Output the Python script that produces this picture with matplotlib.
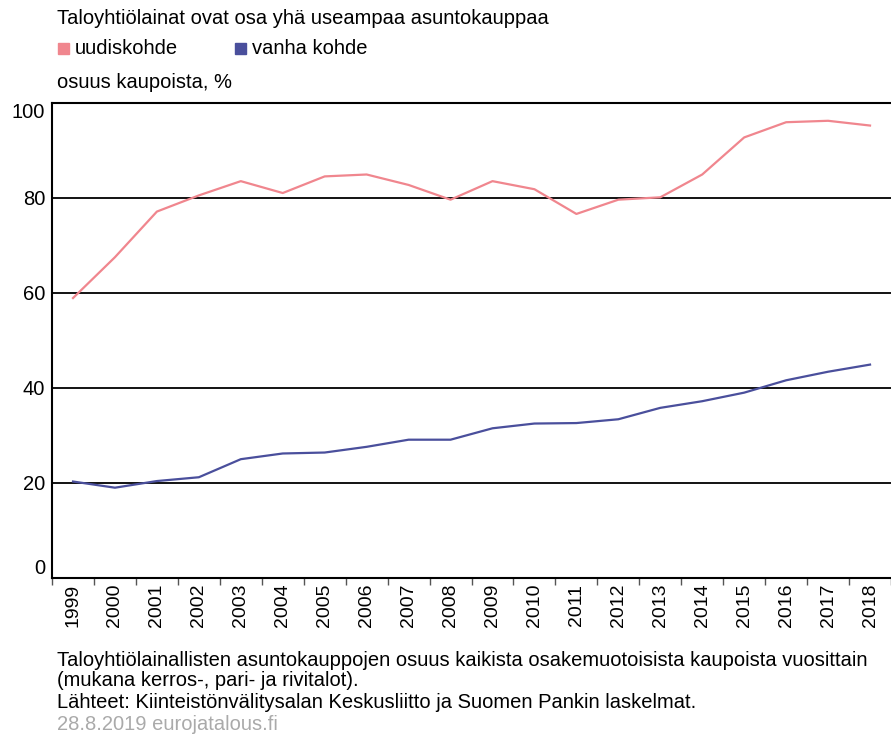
import matplotlib
matplotlib.use("Agg")
import matplotlib.pyplot as plt
from matplotlib.patches import Rectangle

plt.rcParams['font.family'] = ['Liberation Sans', 'DejaVu Sans']

years = ['1999', '2000', '2001', '2002', '2003', '2004', '2005', '2006', '2007', '2008',
         '2009', '2010', '2011', '2012', '2013', '2014', '2015', '2016', '2017', '2018']
uudiskohde = [58.9, 67.5, 77.1, 80.5, 83.5, 81.0, 84.5, 84.9, 82.7, 79.6,
              83.5, 81.8, 76.6, 79.6, 80.1, 84.9, 92.7, 95.9, 96.2, 95.2]
vanha_kohde = [20.3, 19.0, 20.4, 21.2, 25.0, 26.2, 26.4, 27.6, 29.1, 29.1,
               31.5, 32.5, 32.6, 33.4, 35.8, 37.2, 39.0, 41.6, 43.4, 44.9]
yticks = [0, 20, 40, 60, 80, 100]

pink = '#f0868e'
blue = '#4a4f9c'
fs = 14.5

fig = plt.figure(figsize=(8.91, 7.38), dpi=100)
ax = fig.add_axes([0.0584, 0.2168, 0.9416, 0.644])

x = list(range(len(years)))
ax.plot(x, uudiskohde, color=pink, lw=1.6)
ax.plot(x, vanha_kohde, color=blue, lw=1.6)

ax.set_ylim(0, 100)
ax.set_xlim(-0.5, 19.33)
ax.set_yticks(yticks)
for v in yticks[1:-1]:
    ax.axhline(v, color='black', lw=1.3, zorder=0)

ax.set_xticks(x)
ax.set_xticklabels(years, rotation=90, fontsize=14)
ax.set_xticks([i + 0.5 for i in range(-1, len(years))], minor=True)
ax.tick_params(axis='x', which='major', length=0, pad=4)
ax.tick_params(axis='x', which='minor', length=5, width=1, color='#555555')
ax.tick_params(axis='y', length=0, labelsize=fs, pad=5)
# end labels sit inside the frame like in the original
ylabs = ax.get_yticklabels()
ylabs[0].set_va('bottom')
ylabs[-1].set_va('top')

for s in ['left', 'top', 'bottom']:
    ax.spines[s].set_linewidth(1.5)
ax.spines['right'].set_visible(False)

def ftext(px, py, s, **kw):
    fig.text(px / 891, 1 - py / 738, s, fontsize=fs, va='center', ha='left', **kw)

ftext(57, 18, 'Taloyhtiölainat ovat osa yhä useampaa asuntokauppaa')
fig.patches.append(Rectangle((58 / 891, 1 - 54 / 738), 11 / 891, 11 / 738,
                             transform=fig.transFigure, color=pink))
ftext(75, 48, 'uudiskohde')
fig.patches.append(Rectangle((235 / 891, 1 - 54 / 738), 11 / 891, 11 / 738,
                             transform=fig.transFigure, color=blue))
ftext(252, 48, 'vanha kohde')
ftext(57, 82, 'osuus kaupoista, %')

ftext(57, 661, 'Taloyhtiölainallisten asuntokauppojen osuus kaikista osakemuotoisista kaupoista vuosittain')
ftext(57, 681, '(mukana kerros-, pari- ja rivitalot).')
ftext(57, 703, 'Lähteet: Kiinteistönvälitysalan Keskusliitto ja Suomen Pankin laskelmat.')
ftext(57, 725, '28.8.2019 eurojatalous.fi', color='#aaaaaa')

fig.savefig('out.png', dpi=100)
